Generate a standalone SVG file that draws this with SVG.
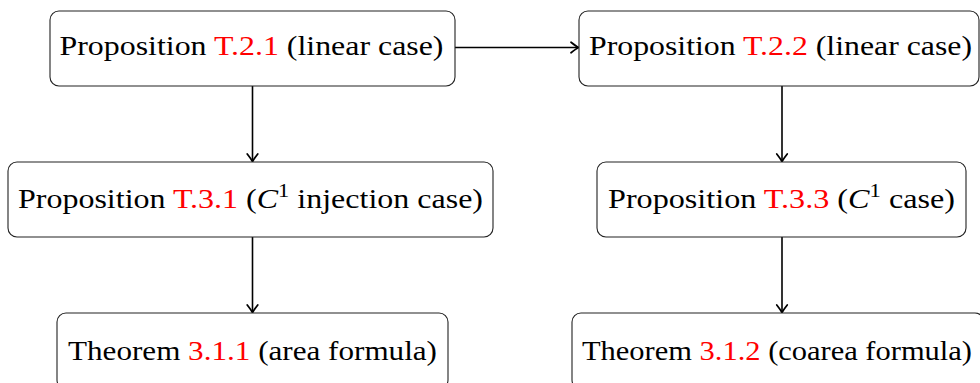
<svg xmlns="http://www.w3.org/2000/svg" width="980" height="383" viewBox="0 0 980 383">
<defs>
<style>
.box{fill:#fff;stroke:#222;stroke-width:1.1}
.t{font-family:'Liberation Serif','Times New Roman','DejaVu Serif','Noto Serif',serif;font-size:27px;fill:#000;text-anchor:middle}
.r{fill:#ff0000}
.i{font-style:italic}
.e{stroke:#000;stroke-width:1.6;fill:none}
</style>
<marker id="ah" markerUnits="userSpaceOnUse" markerWidth="14" markerHeight="14" refX="0" refY="0" viewBox="-8 -6 10 12" orient="auto" overflow="visible">
<path d="M -6 -4.5 Q -1.5 -1 0.5 0 Q -1.5 1 -6 4.5" fill="none" stroke="#000" stroke-width="1.5" stroke-linecap="round"/>
</marker>
</defs>
<g id="edges">
<line class="e" x1="455" y1="47.5" x2="578" y2="47.5" marker-end="url(#ah)"/>
<line class="e" x1="252.5" y1="86" x2="252.5" y2="161" marker-end="url(#ah)"/>
<line class="e" x1="252.5" y1="237" x2="252.5" y2="312" marker-end="url(#ah)"/>
<line class="e" x1="782" y1="86" x2="782" y2="161" marker-end="url(#ah)"/>
<line class="e" x1="782" y1="237" x2="782" y2="312" marker-end="url(#ah)"/>
</g>
<g id="n1">
<rect class="box" x="50" y="11" width="405" height="75" rx="9"/>
<text class="t" font-family="Liberation Serif, DejaVu Serif, serif" x="251.5" y="55" textLength="384" lengthAdjust="spacingAndGlyphs">Proposition <tspan class="r">T.2.1</tspan> (linear case)</text>
</g>
<g id="n2">
<rect class="box" x="579" y="11" width="400" height="75" rx="9"/>
<text class="t" font-family="Liberation Serif, DejaVu Serif, serif" x="780.5" y="55" textLength="383" lengthAdjust="spacingAndGlyphs">Proposition <tspan class="r">T.2.2</tspan> (linear case)</text>
</g>
<g id="n3">
<rect class="box" x="8" y="162" width="485" height="75" rx="9"/>
<text class="t" font-family="Liberation Serif, DejaVu Serif, serif" x="250.5" y="208" textLength="465" lengthAdjust="spacingAndGlyphs">Proposition <tspan class="r">T.3.1</tspan> (<tspan class="i">C</tspan><tspan font-size="19" dy="-11">1</tspan><tspan dy="11"> injection case)</tspan></text>
</g>
<g id="n4">
<rect class="box" x="597" y="162" width="369" height="75" rx="9"/>
<text class="t" font-family="Liberation Serif, DejaVu Serif, serif" x="781.5" y="208" textLength="347" lengthAdjust="spacingAndGlyphs">Proposition <tspan class="r">T.3.3</tspan> (<tspan class="i">C</tspan><tspan font-size="19" dy="-11">1</tspan><tspan dy="11"> case)</tspan></text>
</g>
<g id="n5">
<rect class="box" x="57" y="313" width="391" height="76" rx="9"/>
<text class="t" font-family="Liberation Serif, DejaVu Serif, serif" x="252.5" y="360" textLength="369" lengthAdjust="spacingAndGlyphs">Theorem <tspan class="r">3.1.1</tspan> (area formula)</text>
</g>
<g id="n6">
<rect class="box" x="572" y="313" width="412" height="76" rx="9"/>
<text class="t" font-family="Liberation Serif, DejaVu Serif, serif" x="777" y="360" textLength="390" lengthAdjust="spacingAndGlyphs">Theorem <tspan class="r">3.1.2</tspan> (coarea formula)</text>
</g>
</svg>
